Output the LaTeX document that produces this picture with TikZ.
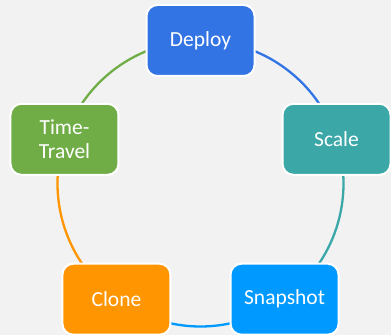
\documentclass[tikz,border=0pt]{standalone}
\usepackage{fontspec}
\setmainfont{Carlito}
\usetikzlibrary{calc}
\definecolor{bgcol}{HTML}{F2F2F2}
\definecolor{deploycol}{HTML}{3374E4}
\definecolor{scalecol}{HTML}{3BA7A7}
\definecolor{snapcol}{HTML}{0099FF}
\definecolor{clonecol}{HTML}{FF9500}
\definecolor{timecol}{HTML}{70AD47}
\tikzset{
  stage/.style={draw=white, line width=2pt, rounded corners=11pt,
    minimum width=108pt, minimum height=71pt, text=white,
    align=center, inner sep=2pt,
    font=\fontsize{21.5}{24}\selectfont},
  ring/.style={line width=2.3pt}
}
\begin{document}
\begin{tikzpicture}[x=1pt,y=1pt]
  % canvas
  \fill[bgcol] (0,0) rectangle (391,335);
  \useasboundingbox (0,0) rectangle (391,335);
  \coordinate (c) at (200.5,151.5);
  % ring segments, each coloured like the stage it leaves
  \draw[ring, deploycol] (c) ++(90:143) arc[start angle=90, end angle=18, radius=143];
  \draw[ring, scalecol] (c) ++(18:143) arc[start angle=18, end angle=-54, radius=143];
  \draw[ring, snapcol] (c) ++(-54:143) arc[start angle=-54, end angle=-126, radius=143];
  \draw[ring, clonecol] (c) ++(-126:143) arc[start angle=-126, end angle=-198, radius=143];
  \draw[ring, timecol] (c) ++(162:143) arc[start angle=162, end angle=90, radius=143];
  % stages
  \node[stage, fill=deploycol] (deploy) at ($(c)+(90:143)$) {Deploy};
  \node[stage, fill=scalecol] (scale) at ($(c)+(18:143)$) {Scale};
  \node[stage, fill=snapcol] (snapshot) at ($(c)+(-54:143)$) {Snapshot};
  \node[stage, fill=clonecol] (clone) at ($(c)+(-126:143)$) {Clone};
  \node[stage, fill=timecol] (timetravel) at ($(c)+(162:143)$) {Time-\\Travel};
\end{tikzpicture}
\end{document}
